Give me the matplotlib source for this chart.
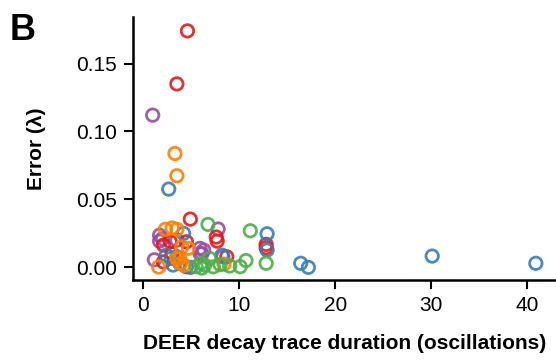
import matplotlib
matplotlib.use("Agg")
import matplotlib.pyplot as plt

plt.rcParams['font.family'] = ['Liberation Sans', 'DejaVu Sans']

# Data (x: duration in oscillations, y: error in lambda)
red_x = [4.6, 3.5, 4.9, 7.6, 7.7, 12.8, 12.8, 2.1, 4.5, 2.8, 8.7, 2.1, 3.0]
red_y = [0.174, 0.135, 0.0355, 0.0223, 0.0193, 0.0169, 0.0145, 0.0164, 0.0188, 0.019, 0.0078, 0.004, 0.010]

purple_x = [0.98, 7.8, 1.7, 1.7, 1.15, 6.3, 5.9, 5.9, 4.9, 6.1, 3.5, 2.0]
purple_y = [0.112, 0.0282, 0.0237, 0.0193, 0.0056, 0.0127, 0.0103, 0.014, 0.0, 0.010, 0.020, 0.021]

blue_x = [2.65, 12.9, 12.9, 4.2, 2.4, 2.9, 3.5, 3.8, 3.1, 4.5, 8.2, 8.3, 16.4, 17.2, 30.1, 40.9]
blue_y = [0.0576, 0.0247, 0.0127, 0.025, 0.009, 0.0066, 0.0078, 0.003, 0.0017, 0.0004, 0.009, 0.0078, 0.003, 0.0, 0.0083, 0.003]

orange_x = [3.3, 3.5, 2.3, 3.0, 3.5, 4.0, 4.7, 3.8, 3.5, 4.2, 1.6, 8.4, 3.9]
orange_y = [0.0838, 0.0674, 0.028, 0.029, 0.028, 0.015, 0.014, 0.0066, 0.0066, 0.0017, 0.0003, 0.0024, 0.003]

green_x = [6.74, 11.15, 12.8, 10.1, 10.7, 6.9, 6.4, 7.3, 6.1, 5.5, 6.0, 8.0, 9.0]
green_y = [0.0316, 0.0269, 0.003, 0.0005, 0.005, 0.0066, 0.0017, 0.0004, -0.0005, 0.0005, 0.003, 0.002, 0.001]

x_ticks = [0, 10, 20, 30, 40]
y_ticks = [0.00, 0.05, 0.10, 0.15]
y_tick_labels = ["0.00", "0.05", "0.10", "0.15"]

series = [
    (purple_x, purple_y, "#984ea3"),
    (red_x, red_y, "#e41a1c"),
    (blue_x, blue_y, "#377eb8"),
    (orange_x, orange_y, "#ff7f00"),
    (green_x, green_y, "#4daf4a"),
]

fig = plt.figure(figsize=(5.56, 3.6), dpi=100)
ax = fig.add_axes([133.3 / 556, 1 - 280 / 360, 1 - 133.3 / 556, (280 - 17.3) / 360])

for xs, ys, c in series:
    ax.scatter(xs, ys, s=80, facecolors="none", edgecolors=c, linewidths=2.0, alpha=0.9)

ax.set_xlim(-1.04, 43.0)
ax.set_ylim(-0.0093, 0.184)
ax.set_xticks(x_ticks)
ax.set_yticks(y_ticks)
ax.set_yticklabels(y_tick_labels)

for side in ["top", "right"]:
    ax.spines[side].set_visible(False)
for side in ["left", "bottom"]:
    ax.spines[side].set_linewidth(1.8)
ax.tick_params(axis="both", length=6.5, width=1.5, labelsize=15, pad=5)

ax.set_xlabel("DEER decay trace duration (oscillations)", fontsize=15, fontweight="bold", labelpad=14)
ax.set_ylabel("Error (\u03bb)", fontsize=15, fontweight="bold", labelpad=22)

fig.text(10 / 556, 1 - 40 / 360, "B", fontsize=26, fontweight="bold", ha="left", va="baseline")

fig.savefig("out.png", dpi=100)
